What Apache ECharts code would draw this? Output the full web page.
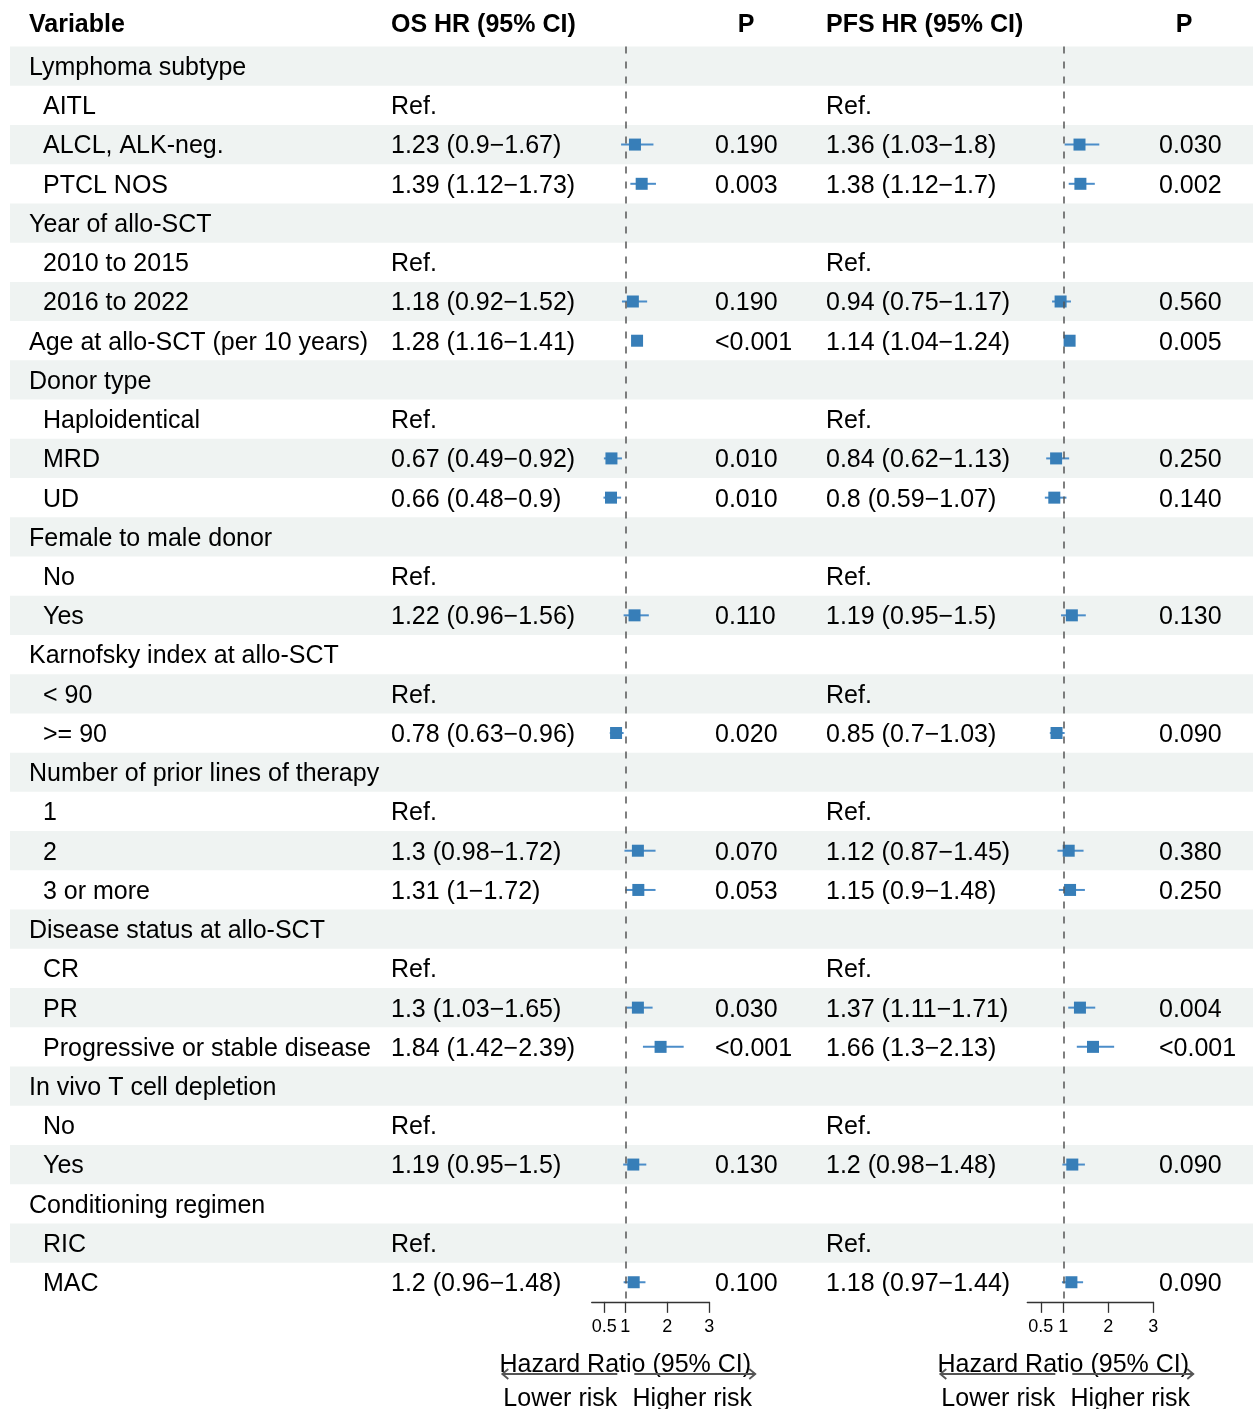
<!DOCTYPE html>
<html>
<head>
<meta charset="utf-8">
<script src="https://cdn.jsdelivr.net/npm/echarts@6/dist/echarts.min.js"></script>
<style>
  html, body { margin: 0; padding: 0; background: #fff; }
  #main { width: 1253px; height: 1409px; }
</style>
</head>
<body>
<div id="main"></div>
<script>
// rows of the table, top to bottom
var rowLabels = ['Lymphoma subtype', 'AITL', 'ALCL, ALK-neg.', 'PTCL NOS', 'Year of allo-SCT', '2010 to 2015', '2016 to 2022',
  'Age at allo-SCT (per 10 years)', 'Donor type', 'Haploidentical', 'MRD', 'UD', 'Female to male donor', 'No', 'Yes',
  'Karnofsky index at allo-SCT', '< 90', '>= 90', 'Number of prior lines of therapy', '1', '2', '3 or more',
  'Disease status at allo-SCT', 'CR', 'PR', 'Progressive or stable disease', 'In vivo T cell depletion', 'No', 'Yes',
  'Conditioning regimen', 'RIC', 'MAC'];
var groupRows = [0, 4, 7, 8, 12, 15, 18, 22, 26, 29];   // not indented
var refRows = [1, 5, 9, 13, 16, 19, 23, 27, 30];

var osHR   = [null, null, 1.23, 1.39, null, null, 1.18, 1.28, null, null, 0.67, 0.66, null, null, 1.22, null, null, 0.78, null, null, 1.3, 1.31, null, null, 1.3, 1.84, null, null, 1.19, null, null, 1.2];
var osLow  = [null, null, 0.9, 1.12, null, null, 0.92, 1.16, null, null, 0.49, 0.48, null, null, 0.96, null, null, 0.63, null, null, 0.98, 1, null, null, 1.03, 1.42, null, null, 0.95, null, null, 0.96];
var osHigh = [null, null, 1.67, 1.73, null, null, 1.52, 1.41, null, null, 0.92, 0.9, null, null, 1.56, null, null, 0.96, null, null, 1.72, 1.72, null, null, 1.65, 2.39, null, null, 1.5, null, null, 1.48];
var osP    = ['', '', '0.190', '0.003', '', '', '0.190', '<0.001', '', '', '0.010', '0.010', '', '', '0.110', '', '', '0.020', '', '', '0.070', '0.053', '', '', '0.030', '<0.001', '', '', '0.130', '', '', '0.100'];

var pfsHR   = [null, null, 1.36, 1.38, null, null, 0.94, 1.14, null, null, 0.84, 0.8, null, null, 1.19, null, null, 0.85, null, null, 1.12, 1.15, null, null, 1.37, 1.66, null, null, 1.2, null, null, 1.18];
var pfsLow  = [null, null, 1.03, 1.12, null, null, 0.75, 1.04, null, null, 0.62, 0.59, null, null, 0.95, null, null, 0.7, null, null, 0.87, 0.9, null, null, 1.11, 1.3, null, null, 0.98, null, null, 0.97];
var pfsHigh = [null, null, 1.8, 1.7, null, null, 1.17, 1.24, null, null, 1.13, 1.07, null, null, 1.5, null, null, 1.03, null, null, 1.45, 1.48, null, null, 1.71, 2.13, null, null, 1.48, null, null, 1.44];
var pfsP    = ['', '', '0.030', '0.002', '', '', '0.560', '0.005', '', '', '0.250', '0.140', '', '', '0.130', '', '', '0.090', '', '', '0.380', '0.250', '', '', '0.004', '<0.001', '', '', '0.090', '', '', '0.090'];

var xTicks = [0.5, 1, 2, 3];
var headers = ['Variable', 'OS HR (95% CI)', 'P', 'PFS HR (95% CI)', 'P'];

var FONT = 'Liberation Sans, Arial, Helvetica, sans-serif';
var FS = 25;
var BOX = '#377EB8';
var DY = 2;  // nudge for text baseline
var nRows = rowLabels.length;

function hrText(hr, lo, hi, i) {
  if (hr != null) return hr + ' (' + lo + '\u2212' + hi + ')';
  return refRows.indexOf(i) >= 0 ? 'Ref.' : '';
}

var tableRows = [], bandRows = [], osData = [], pfsData = [];
for (var i = 0; i < nRows; i++) {
  tableRows.push([i]);
  if (i % 2 === 0) bandRows.push([i]);
  if (osHR[i] != null) osData.push([osHR[i], osLow[i], osHigh[i], i]);
  if (pfsHR[i] != null) pfsData.push([pfsHR[i], pfsLow[i], pfsHigh[i], i]);
}

var chart = echarts.init(document.getElementById('main'), null, { renderer: 'canvas' });

var gridTop = 46.5, rowH = 39.23;
var gridBottom = 1409 - (gridTop + rowH * nRows);

function yAxisFor(idx) {
  return { type: 'value', gridIndex: idx, min: -0.5, max: nRows - 0.5, inverse: true, show: false };
}
function forestX(idx) {
  return {
    type: 'value', gridIndex: idx, min: 0.2, max: 3,
    axisLine: { show: true, onZero: false, lineStyle: { color: '#333', width: 1.3 } },
    axisTick: { show: true, length: 11, customValues: xTicks, lineStyle: { color: '#333', width: 1.3 } },
    axisLabel: { customValues: xTicks, color: '#000', fontSize: 18, fontFamily: FONT, margin: 16,
      formatter: function (v) { return String(v); } },
    splitLine: { show: false }
  };
}

function ciRender(params, api) {
  var y = api.value(3);
  var a = api.coord([api.value(1), y]);
  var b = api.coord([api.value(2), y]);
  return { type: 'line', shape: { x1: a[0], y1: a[1], x2: b[0], y2: b[1] },
    style: { stroke: '#4b8dc9', lineWidth: 2 } };
}

function txt(x, y, s, align) {
  return { type: 'text', x: x, y: y + DY,
    style: { text: s, fill: '#000', fontSize: FS, fontFamily: FONT, align: align || 'left', verticalAlign: 'middle' } };
}

var option = {
  backgroundColor: '#fff',
  animation: false,
  grid: [
    { left: 0, right: 0, top: gridTop, bottom: gridBottom },
    { left: 591.7, width: 117.6, top: gridTop, bottom: gridBottom },
    { left: 1027.3, width: 126, top: gridTop, bottom: gridBottom }
  ],
  xAxis: [
    { type: 'value', gridIndex: 0, min: 0, max: 1253, show: false },
    forestX(1),
    forestX(2)
  ],
  yAxis: [yAxisFor(0), yAxisFor(1), yAxisFor(2)],
  series: [
    {
      type: 'custom', xAxisIndex: 0, yAxisIndex: 0, z: 0, silent: true,
      data: bandRows,
      renderItem: function (params, api) {
        var r = api.value(0);
        var p1 = api.coord([10, r - 0.5]);
        var p2 = api.coord([1253, r + 0.5]);
        return { type: 'rect', shape: { x: p1[0], y: p1[1], width: p2[0] - p1[0], height: p2[1] - p1[1] },
          style: { fill: '#eff3f2' } };
      }
    },
    {
      type: 'custom', xAxisIndex: 0, yAxisIndex: 0, z: 1, silent: true,
      data: tableRows,
      renderItem: function (params, api) {
        var r = api.value(0);
        var y = api.coord([0, r])[1];
        var indent = groupRows.indexOf(r) >= 0 ? 29 : 43;
        return { type: 'group', children: [
          txt(indent, y, rowLabels[r]),
          txt(391, y, hrText(osHR[r], osLow[r], osHigh[r], r)),
          txt(715, y, osP[r]),
          txt(826, y, hrText(pfsHR[r], pfsLow[r], pfsHigh[r], r)),
          txt(1159, y, pfsP[r])
        ] };
      }
    },
    { type: 'custom', xAxisIndex: 1, yAxisIndex: 1, z: 2, silent: true, data: osData, renderItem: ciRender },
    {
      type: 'scatter', xAxisIndex: 1, yAxisIndex: 1, z: 3, symbol: 'rect', symbolSize: 12,
      itemStyle: { color: BOX, opacity: 1 },
      data: osData.map(function (d) { return [d[0], d[3]]; })
    },
    { type: 'custom', xAxisIndex: 2, yAxisIndex: 2, z: 2, silent: true, data: pfsData, renderItem: ciRender },
    {
      type: 'scatter', xAxisIndex: 2, yAxisIndex: 2, z: 3, symbol: 'rect', symbolSize: 12,
      itemStyle: { color: BOX, opacity: 1 },
      data: pfsData.map(function (d) { return [d[0], d[3]]; })
    },
    {
      type: 'line', xAxisIndex: 1, yAxisIndex: 1, z: 4, data: [],
      markLine: { silent: true, symbol: 'none', label: { show: false },
        lineStyle: { type: [7, 8], color: '#555', width: 1.5 }, data: [{ xAxis: 1 }] }
    },
    {
      type: 'line', xAxisIndex: 2, yAxisIndex: 2, z: 4, data: [],
      markLine: { silent: true, symbol: 'none', label: { show: false },
        lineStyle: { type: [7, 8], color: '#555', width: 1.5 }, data: [{ xAxis: 1 }] }
    }
  ]
};
chart.setOption(option);

// headers and the arrows under each forest
function bold(x, y, s, align) {
  return { type: 'text', x: x, y: y + DY,
    style: { text: s, fill: '#000', fontSize: FS, fontWeight: 'bold', fontFamily: FONT, align: align, verticalAlign: 'middle' } };
}
var g = [
  bold(29, 23, headers[0], 'left'),
  bold(391, 23, headers[1], 'left'),
  bold(746, 23, headers[2], 'center'),
  bold(826, 23, headers[3], 'left'),
  bold(1184, 23, headers[4], 'center')
];
[1, 2].forEach(function (ax) {
  var ref = chart.convertToPixel({ xAxisIndex: ax }, 1);
  var ay = 1374;
  var ls = { stroke: '#555', lineWidth: 1.8, fill: null };
  g.push({ type: 'text', x: ref, y: 1363 + DY, style: { text: 'Hazard Ratio (95% CI)', fill: '#000', fontSize: FS, fontFamily: FONT, align: 'center', verticalAlign: 'middle' } });
  g.push({ type: 'polyline', shape: { points: [[ref - 8, ay], [ref - 123, ay]] }, style: ls });
  g.push({ type: 'polyline', shape: { points: [[ref - 117, ay - 5], [ref - 123, ay], [ref - 117, ay + 5]] }, style: ls });
  g.push({ type: 'polyline', shape: { points: [[ref + 9, ay], [ref + 130, ay]] }, style: ls });
  g.push({ type: 'polyline', shape: { points: [[ref + 124, ay - 5], [ref + 130, ay], [ref + 124, ay + 5]] }, style: ls });
  g.push({ type: 'text', x: ref - 65, y: 1397 + DY, style: { text: 'Lower risk', fill: '#000', fontSize: FS, fontFamily: FONT, align: 'center', verticalAlign: 'middle' } });
  g.push({ type: 'text', x: ref + 67, y: 1397 + DY, style: { text: 'Higher risk', fill: '#000', fontSize: FS, fontFamily: FONT, align: 'center', verticalAlign: 'middle' } });
});
chart.setOption({ graphic: g });
</script>
</body>
</html>
